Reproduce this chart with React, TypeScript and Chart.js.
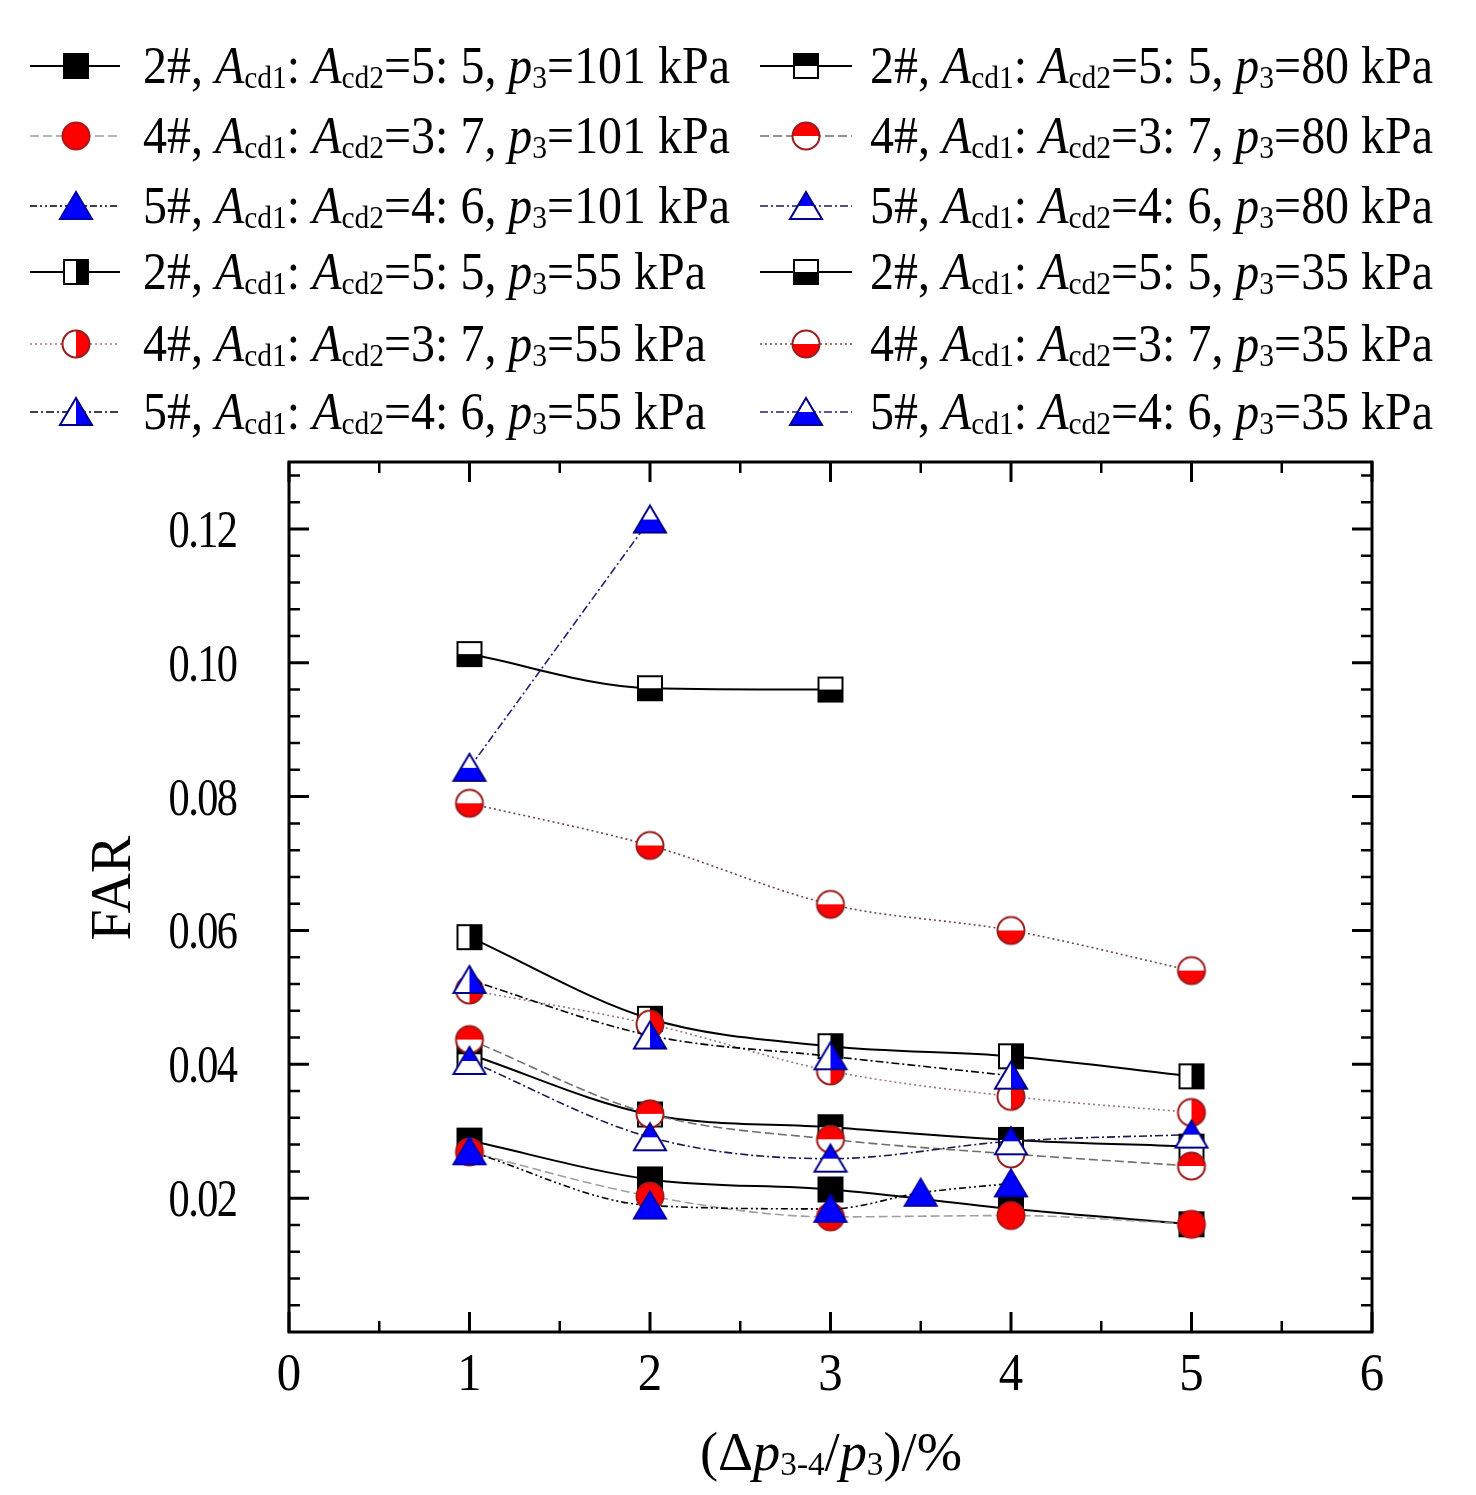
import { useEffect, useRef } from 'react';
import { Chart, registerables, Plugin } from 'chart.js';

Chart.register(...registerables);

// x positions (Δp3-4/p3, %)
const X_FULL = [1, 2, 3, 4, 5];
const X_5_101 = [1, 2, 3, 3.5, 4];
const X_2_35 = [1, 2, 3];
const X_5_55 = [1, 2, 3, 4];
const X_5_35 = [1, 2];

// FAR values
const FAR_2_101 = [0.0286, 0.0228, 0.0213, 0.0184, 0.0161];
const FAR_4_101 = [0.0269, 0.0203, 0.0172, 0.0174, 0.0161];
const FAR_5_101 = [0.027, 0.0189, 0.0184, 0.0208, 0.0222];
const FAR_2_80 = [0.0415, 0.0325, 0.0306, 0.0287, 0.0277];
const FAR_4_80 = [0.0437, 0.0326, 0.0288, 0.0266, 0.0248];
const FAR_5_80 = [0.0405, 0.0291, 0.0259, 0.0285, 0.0295];
const FAR_2_55 = [0.059, 0.0468, 0.0427, 0.0412, 0.0382];
const FAR_4_55 = [0.0511, 0.046, 0.039, 0.0352, 0.0328];
const FAR_5_55 = [0.0526, 0.0443, 0.0412, 0.0383];
const FAR_2_35 = [0.1013, 0.0962, 0.096];
const FAR_4_35 = [0.079, 0.0727, 0.0639, 0.06, 0.054];
const FAR_5_35 = [0.0843, 0.1214];

const MODELS = ['2#', '4#', '5#'];
const RATIOS = ['5: 5', '3: 7', '4: 6'];
const PRESSURES = [101, 80, 55, 35];

const X_TICKS = [0, 1, 2, 3, 4, 5, 6];
const Y_TICKS = [0.02, 0.04, 0.06, 0.08, 0.1, 0.12];

const FONT = '"Liberation Serif", "Times New Roman", serif';

type Shape = 'square' | 'circle' | 'triangle';
type Half = 'full' | 'top' | 'bottom' | 'right';

function makeMarker(shape: Shape, half: Half, fill: string, edge: string) {
  const S = 38;
  const c = document.createElement('canvas');
  c.width = S;
  c.height = S;
  const ctx = c.getContext('2d')!;
  const cx = S / 2;
  const cy = S / 2;
  const path = () => {
    ctx.beginPath();
    if (shape === 'square') ctx.rect(cx - 12, cy - 12, 24, 24);
    else if (shape === 'circle') ctx.arc(cx, cy, 13.5, 0, Math.PI * 2);
    else {
      ctx.moveTo(cx, cy - 14);
      ctx.lineTo(cx + 16, cy + 13);
      ctx.lineTo(cx - 16, cy + 13);
      ctx.closePath();
    }
  };
  path();
  ctx.fillStyle = '#fff';
  ctx.fill();
  ctx.save();
  path();
  ctx.clip();
  ctx.fillStyle = fill;
  if (half === 'full') ctx.fillRect(0, 0, S, S);
  else if (half === 'top') ctx.fillRect(0, 0, S, cy);
  else if (half === 'bottom') ctx.fillRect(0, cy, S, S - cy);
  else ctx.fillRect(cx, 0, S - cx, S);
  ctx.restore();
  path();
  ctx.lineWidth = 2;
  ctx.strokeStyle = edge;
  ctx.stroke();
  return c;
}

interface Series {
  model: number;
  pressure: number;
  xs: number[];
  ys: number[];
  shape: Shape;
  half: Half;
  line: string;
  dash: number[];
  col: number;
  row: number;
}

const SERIES: Series[] = [
  { model: 0, pressure: 0, xs: X_FULL, ys: FAR_2_101, shape: 'square', half: 'full', line: '#000', dash: [], col: 0, row: 0 },
  { model: 1, pressure: 0, xs: X_FULL, ys: FAR_4_101, shape: 'circle', half: 'full', line: '#a0a0a0', dash: [9, 4], col: 0, row: 1 },
  { model: 2, pressure: 0, xs: X_5_101, ys: FAR_5_101, shape: 'triangle', half: 'full', line: '#000', dash: [7, 3, 2, 3, 2, 3], col: 0, row: 2 },
  { model: 0, pressure: 2, xs: X_FULL, ys: FAR_2_55, shape: 'square', half: 'right', line: '#000', dash: [], col: 0, row: 3 },
  { model: 1, pressure: 2, xs: X_FULL, ys: FAR_4_55, shape: 'circle', half: 'right', line: '#a07878', dash: [2, 3], col: 0, row: 4 },
  { model: 2, pressure: 2, xs: X_5_55, ys: FAR_5_55, shape: 'triangle', half: 'right', line: '#000', dash: [8, 3, 2, 3], col: 0, row: 5 },
  { model: 0, pressure: 1, xs: X_FULL, ys: FAR_2_80, shape: 'square', half: 'top', line: '#000', dash: [], col: 1, row: 0 },
  { model: 1, pressure: 1, xs: X_FULL, ys: FAR_4_80, shape: 'circle', half: 'top', line: '#707070', dash: [9, 4], col: 1, row: 1 },
  { model: 2, pressure: 1, xs: X_FULL, ys: FAR_5_80, shape: 'triangle', half: 'top', line: '#1a1a50', dash: [8, 3, 2, 3], col: 1, row: 2 },
  { model: 0, pressure: 3, xs: X_2_35, ys: FAR_2_35, shape: 'square', half: 'bottom', line: '#000', dash: [], col: 1, row: 3 },
  { model: 1, pressure: 3, xs: X_FULL, ys: FAR_4_35, shape: 'circle', half: 'bottom', line: '#704848', dash: [2, 3], col: 1, row: 4 },
  { model: 2, pressure: 3, xs: X_5_35, ys: FAR_5_35, shape: 'triangle', half: 'bottom', line: '#22227a', dash: [8, 3, 2, 3], col: 1, row: 5 },
];

const SHAPE_COLORS: Record<Shape, { fill: string; edge: string; order: number }> = {
  square: { fill: '#000', edge: '#000', order: 2 },
  circle: { fill: '#ff0000', edge: '#b01818', order: 1 },
  triangle: { fill: '#0000ff', edge: '#0000b0', order: 0 },
};

type Seg = { t: string; k: 'n' | 'i' | 's' };

function segFont(k: Seg['k'], size: number) {
  if (k === 'i') return `italic ${size}px ${FONT}`;
  if (k === 's') return `${Math.round(size * 0.62)}px ${FONT}`;
  return `${size}px ${FONT}`;
}

function richWidth(ctx: CanvasRenderingContext2D, segs: Seg[], size: number) {
  let w = 0;
  for (const s of segs) {
    ctx.font = segFont(s.k, size);
    w += ctx.measureText(s.t).width;
  }
  return w;
}

function drawRich(ctx: CanvasRenderingContext2D, segs: Seg[], x: number, y: number, size: number, sx: number) {
  ctx.save();
  ctx.translate(x, y);
  ctx.scale(sx, 1);
  ctx.textAlign = 'left';
  ctx.textBaseline = 'alphabetic';
  let cx = 0;
  for (const s of segs) {
    ctx.font = segFont(s.k, size);
    ctx.fillText(s.t, cx, s.k === 's' ? size * 0.1 : 0);
    cx += ctx.measureText(s.t).width;
  }
  ctx.restore();
}

// tight, slightly condensed number label
function drawNumber(ctx: CanvasRenderingContext2D, label: string, x: number, y: number, align: 'right' | 'center', size: number, sx: number, spacing: number) {
  ctx.save();
  ctx.font = `${size}px ${FONT}`;
  ctx.textBaseline = 'alphabetic';
  ctx.textAlign = 'left';
  const widths = [...label].map((ch) => ctx.measureText(ch).width);
  const total = (widths.reduce((p, w) => p + w, 0) + spacing * (label.length - 1)) * sx;
  const left = align === 'right' ? x - total : x - total / 2;
  ctx.translate(left, y);
  ctx.scale(sx, 1);
  let cx = 0;
  [...label].forEach((ch, i) => {
    ctx.fillText(ch, cx, 0);
    cx += widths[i] + spacing;
  });
  ctx.restore();
}

function legendSegs(m: number, p: number): Seg[] {
  return [
    { t: `${MODELS[m]}, `, k: 'n' },
    { t: 'A', k: 'i' },
    { t: 'cd1', k: 's' },
    { t: ': ', k: 'n' },
    { t: 'A', k: 'i' },
    { t: 'cd2', k: 's' },
    { t: `=${RATIOS[m]}, `, k: 'n' },
    { t: 'p', k: 'i' },
    { t: '3', k: 's' },
    { t: `=${PRESSURES[p]} kPa`, k: 'n' },
  ];
}

const X_TITLE: Seg[] = [
  { t: '(Δ', k: 'n' },
  { t: 'p', k: 'i' },
  { t: '3-4', k: 's' },
  { t: '/', k: 'n' },
  { t: 'p', k: 'i' },
  { t: '3', k: 's' },
  { t: ')/%', k: 'n' },
];

const ROW_Y = [58, 128, 198, 264, 336, 404];
const COL_X = [{ l0: 22, l1: 112, m: 68, t: 135 }, { l0: 752, l1: 844, m: 798, t: 862 }];

const decorPlugin: Plugin<'line'> = {
  id: 'decor',
  afterDraw(chart) {
    const { ctx, chartArea: a } = chart;
    const xs = chart.scales.x;
    const ys = chart.scales.y;
    ctx.save();
    ctx.fillStyle = '#000';
    ctx.strokeStyle = '#000';

    // frame
    ctx.lineWidth = 3;
    ctx.strokeRect(a.left, a.top, a.right - a.left, a.bottom - a.top);

    // inward ticks on all sides
    const major = 20;
    const minor = 11;
    ctx.lineCap = 'butt';
    const vtick = (px: number, len: number) => {
      ctx.beginPath();
      ctx.moveTo(px, a.bottom);
      ctx.lineTo(px, a.bottom - len);
      ctx.moveTo(px, a.top);
      ctx.lineTo(px, a.top + len);
      ctx.stroke();
    };
    const htick = (py: number, len: number) => {
      ctx.beginPath();
      ctx.moveTo(a.left, py);
      ctx.lineTo(a.left + len, py);
      ctx.moveTo(a.right, py);
      ctx.lineTo(a.right - len, py);
      ctx.stroke();
    };
    for (let i = 0; i < X_TICKS.length; i++) {
      ctx.lineWidth = 3;
      vtick(xs.getPixelForValue(X_TICKS[i]), major);
      if (i < X_TICKS.length - 1) {
        ctx.lineWidth = 2.5;
        vtick(xs.getPixelForValue((X_TICKS[i] + X_TICKS[i + 1]) / 2), minor);
      }
    }
    const yStep = 0.004;
    for (let k = 1; k * yStep < 0.13 - 1e-9; k++) {
      const v = k * yStep;
      const isMajor = Math.abs(v / 0.02 - Math.round(v / 0.02)) < 1e-6;
      ctx.lineWidth = isMajor ? 3 : 2.5;
      htick(ys.getPixelForValue(v), isMajor ? major : minor);
    }

    // tick labels
    for (const v of Y_TICKS) {
      drawNumber(ctx, v.toFixed(2), 230, ys.getPixelForValue(v) + 18, 'right', 53, 0.8, -2);
    }
    for (const v of X_TICKS) {
      drawNumber(ctx, String(v), xs.getPixelForValue(v), a.bottom + 58, 'center', 53, 0.92, 0);
    }

    // axis titles
    const xtW = richWidth(ctx, X_TITLE, 54);
    drawRich(ctx, X_TITLE, 823 - 131, 1462, 54, 262 / xtW);
    ctx.save();
    ctx.translate(103, (a.top + a.bottom) / 2 - 9);
    ctx.rotate(-Math.PI / 2);
    ctx.font = `56px ${FONT}`;
    ctx.textAlign = 'center';
    ctx.textBaseline = 'alphabetic';
    ctx.fillText('FAR', 0, 19);
    ctx.restore();

    // legend
    const lSize = 52;
    const lScale = 587 / richWidth(ctx, legendSegs(0, 0), lSize);
    chart.data.datasets.forEach((ds: any, i) => {
      const s = SERIES[i];
      const c = COL_X[s.col];
      const y = ROW_Y[s.row];
      ctx.save();
      ctx.strokeStyle = ds.borderColor;
      ctx.lineWidth = ds.borderWidth;
      ctx.setLineDash(ds.borderDash);
      ctx.beginPath();
      ctx.moveTo(c.l0, y);
      ctx.lineTo(c.l1, y);
      ctx.stroke();
      ctx.restore();
      const img = ds.pointStyle as HTMLCanvasElement;
      ctx.drawImage(img, c.m - img.width / 2, y - img.height / 2);
      drawRich(ctx, legendSegs(s.model, s.pressure), c.t, y + 17, lSize, lScale);
    });
    ctx.restore();
  },
};

export default function App() {
  const canvasRef = useRef<HTMLCanvasElement | null>(null);

  useEffect(() => {
    if (!canvasRef.current) return;
    const datasets = SERIES.map((s) => {
      const sc = SHAPE_COLORS[s.shape];
      const edge = s.half === 'full' ? sc.edge : s.shape === 'circle' ? '#9a1c1c' : s.shape === 'triangle' ? '#00008a' : '#000';
      return {
        label: `${MODELS[s.model]} ${PRESSURES[s.pressure]} kPa`,
        data: s.xs.map((x, i) => ({ x, y: s.ys[i] })),
        borderColor: s.line,
        borderWidth: s.dash.length ? 1.6 : 2,
        borderDash: s.dash,
        pointStyle: makeMarker(s.shape, s.half, sc.fill, edge),
        pointRadius: 12,
        order: sc.order,
        cubicInterpolationMode: 'monotone' as const,
        fill: false,
      };
    });

    const chart = new Chart(canvasRef.current, {
      type: 'line',
      data: { datasets },
      options: {
        animation: false,
        responsive: true,
        maintainAspectRatio: false,
        layout: { padding: { top: 454, right: 96, left: 0, bottom: 0 } },
        plugins: { legend: { display: false }, tooltip: { enabled: false } },
        scales: {
          x: {
            type: 'linear',
            min: 0,
            max: 6,
            grid: { display: false },
            border: { display: false },
            ticks: { display: false },
            afterFit: (scale) => {
              scale.height = 155;
            },
          },
          y: {
            type: 'linear',
            min: 0,
            max: 0.13,
            grid: { display: false },
            border: { display: false },
            ticks: { display: false },
            afterFit: (scale) => {
              scale.width = 281;
            },
          },
        },
      },
      plugins: [decorPlugin],
    });

    return () => chart.destroy();
  }, []);

  return (
    <div style={{ width: 1460, height: 1479, position: 'relative', background: '#fff' }}>
      <canvas ref={canvasRef} />
    </div>
  );
}
